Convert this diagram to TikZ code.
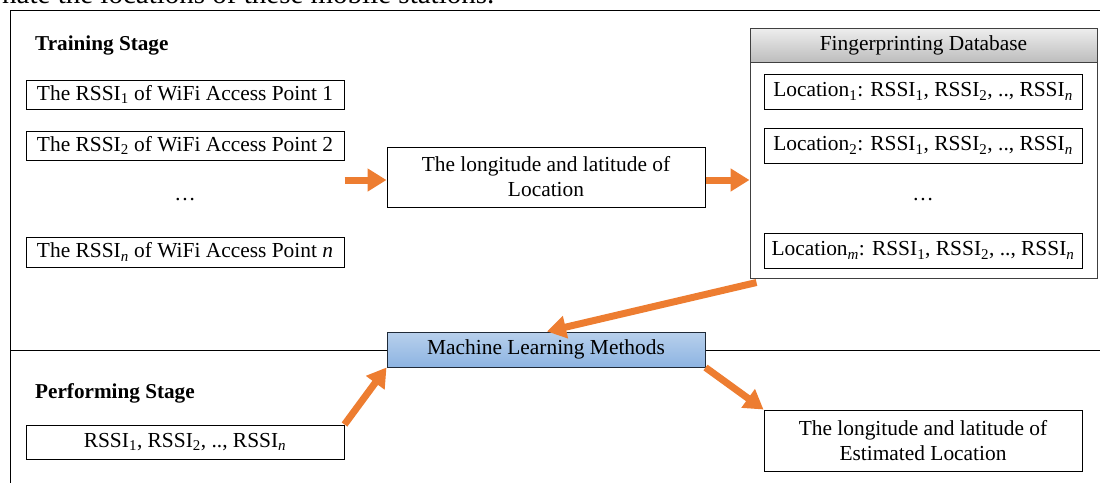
\documentclass[tikz,border=0pt]{standalone}
\usepackage{fontspec}
\setmainfont{Liberation Serif}
\usetikzlibrary{arrows.meta,calc}
\definecolor{flowor}{HTML}{ED7D31}
\definecolor{mltop}{HTML}{B8D0EC}
\definecolor{mlbot}{HTML}{8DB4E2}
\definecolor{mlline}{HTML}{1F2A38}
\definecolor{dbtop}{HTML}{EEEEEE}
\definecolor{dbbot}{HTML}{BDBDBD}
\tikzset{
  txt/.style={font=\fontsize{21.4}{25}\selectfont},
  box/.style={txt, draw=black, line width=1pt, fill=white, inner sep=0pt,
              minimum width=318pt, align=center},
  heading/.style={font=\fontsize{21.2}{25}\selectfont\bfseries, inner sep=0pt, anchor=base west},
  flow/.style={draw=flowor, line width=7pt,
               -{Triangle[width=22pt,length=19pt]}, shorten >=0pt},
  frame/.style={draw=black, line width=1pt},
}
\newcommand{\rs}[1]{RSSI\textsubscript{#1}}
\begin{document}
\begin{tikzpicture}[x=1pt,y=-1pt]
\useasboundingbox (0,0) rectangle (1100,482);

% running text of the page above the figure
\node[font=\fontsize{29}{33}\selectfont, inner sep=0pt, anchor=base west]
  (pagetext) at (2,3) {nate the locations of these mobile stations.};

% outer frame and stage divider
\draw[frame] (1106,10) -- (10,10) -- (10,490);
\draw[frame] (10,350) -- (1106,350);

% training stage
\node[heading] (train) at (35,50) {Training Stage};
\node[box, minimum height=29pt] (ap1) at (185,94.5) {The \rs{1} of WiFi Access Point 1};
\node[box, minimum height=29pt] (ap2) at (185,145.5) {The \rs{2} of WiFi Access Point 2};
\node[txt, inner sep=0pt] (apdots) at (185,200) {\dots};
\node[box, minimum height=30pt] (apn) at (185,252) {The \rs{\textit{n}} of WiFi Access Point \textit{n}};

\node[box, minimum height=60pt] (loc) at (546,177)
  {The longitude and latitude of\\Location};

% fingerprinting database
\node[txt, draw=black!75, line width=1pt, inner sep=0pt,
      minimum width=347pt, minimum height=34pt,
      top color=dbtop, bottom color=dbbot] (dbhead) at (923.5,45) {Fingerprinting Database};
\node[draw=black!75, line width=1pt, inner sep=0pt,
      minimum width=347pt, minimum height=216pt] (dbbody) at (923.5,170) {};
\node[box, minimum height=35pt] (fp1) at (923,91.5) {Location\textsubscript{1}: \rs{1}, \rs{2}, .., \rs{\textit{n}}};
\node[box, minimum height=35pt] (fp2) at (923,145.5) {Location\textsubscript{2}: \rs{1}, \rs{2}, .., \rs{\textit{n}}};
\node[txt, inner sep=0pt] (fpdots) at (923,200) {\dots};
\node[box, minimum height=35pt] (fpm) at (923,250.5) {Location\textsubscript{\textit{m}}: \rs{1}, \rs{2}, .., \rs{\textit{n}}};

% learning block on the divider
\node[txt, draw=mlline, line width=1pt, inner sep=0pt,
      minimum width=318pt, minimum height=35pt,
      top color=mltop, bottom color=mlbot] (ml) at (546,349.5) {Machine Learning Methods};

% performing stage
\node[heading] (perf) at (35,398) {Performing Stage};
\node[box, minimum height=34pt] (meas) at (185,442) {\rs{1}, \rs{2}, .., \rs{\textit{n}}};
\node[box, minimum height=61pt] (est) at (923,440.5)
  {The longitude and latitude of\\Estimated Location};

% connectors
\coordinate (a1s) at ($(ap1.east |- loc.west)+(0,3)$);
\draw[flow] (a1s) -- (loc.west |- a1s);
\coordinate (a2s) at ($(loc.east)+(0,3)$);
\draw[flow] (a2s) -- (dbbody.west |- a2s);
\coordinate (a3s) at ($(dbbody.south west)+(7,4)$);
\draw[flow] (a3s) -- ($(ml.north)+(1,0)$);
\draw[flow] (meas.north east) -- (ml.south west);
\draw[flow] (ml.south east) -- (est.north west);
\end{tikzpicture}
\end{document}
